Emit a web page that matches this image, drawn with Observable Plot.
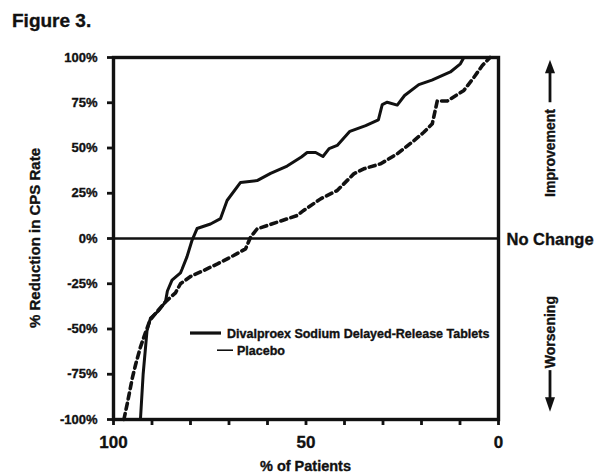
<!DOCTYPE html>
<html>
<head>
<meta charset="utf-8">
<script src="https://cdn.jsdelivr.net/npm/d3@7"></script>
<script src="https://cdn.jsdelivr.net/npm/@observablehq/plot@0.6"></script>
<style>
  html, body { margin: 0; padding: 0; background: #fff; }
  svg text { font-family: "Liberation Sans", Arial, sans-serif; font-weight: bold; fill: #111; stroke: #111; stroke-width: 0.35px; }
</style>
</head>
<body>
<div id="chart"></div>
<script>
// ---- data ----
const divalproexX = [93, 92.3, 91.3, 90.4, 88.3, 86.5, 86, 84.8, 82.6, 82.2, 80.9, 79.6, 78.3, 74.8, 72.2, 70.5, 67, 62.7, 59.2, 54.9, 51.2, 49.7, 47.5, 45.6, 44, 41.9, 38.6, 34.5, 31.2, 30.2, 28.9, 26.3, 24.4, 20.7, 17.3, 12.5, 9.9, 9];
const divalproexY = [-100, -75, -51, -44, -40, -35, -29, -23, -19, -17, -10, -1, 5.5, 8, 11, 21, 31, 32, 36, 40, 45, 47.5, 47.5, 45.3, 49.7, 51.4, 59.2, 62.4, 65.6, 74, 75.3, 73.7, 79, 85, 87.5, 92, 96.5, 100];
const placeboX = [97.3, 96.4, 95.1, 94.3, 93, 91.7, 90.5, 88.5, 86.5, 83.9, 82.6, 80, 76.6, 73, 68.8, 65.7, 64.4, 62.7, 57.5, 52.3, 50.6, 46.2, 41.9, 37.6, 35, 30.6, 26.3, 22, 19.4, 17.2, 15.9, 13.3, 9, 6.4, 4.2, 2.2];
const placeboY = [-100, -91, -77, -70, -60, -52, -45, -40, -35, -30, -25, -21, -17.7, -14, -9.4, -5.7, 0.7, 5.3, 9, 12.7, 15.5, 21.9, 26.5, 35.7, 38.5, 41.3, 46.8, 54, 58.7, 63.4, 76, 76, 81.8, 89, 95.6, 100];
const yTicks = [-100, -75, -50, -25, 0, 25, 50, 75, 100];
const xTicks = [100, 90, 80, 70, 60, 50, 40, 30, 20, 10, 0];
const xLabelTicks = [100, 50, 0];
const seriesNames = ["Divalproex Sodium Delayed-Release Tablets", "Placebo"];
const figureTitle = "Figure 3.";
const yTitle = "% Reduction in CPS Rate";
const xTitle = "% of Patients";

const divalproex = divalproexX.map((x, i) => ({x, y: divalproexY[i]}));
const placebo = placeboX.map((x, i) => ({x, y: placeboY[i]}));

const chart = Plot.plot({
  width: 597,
  height: 475,
  marginLeft: 113,
  marginRight: 99,
  marginTop: 57,
  marginBottom: 56,
  style: {fontFamily: "Liberation Sans, Arial, sans-serif", fontWeight: "bold", background: "#fff"},
  x: {domain: [100, 0], label: null},
  y: {domain: [-100, 100], label: null},
  marks: [
    Plot.ruleY([0], {stroke: "#111", strokeWidth: 2.6}),
    Plot.line(placebo, {x: "x", y: "y", stroke: "#111", strokeWidth: 3.6, strokeDasharray: "6,4.5"}),
    Plot.line(divalproex, {x: "x", y: "y", stroke: "#111", strokeWidth: 3}),
    Plot.frame({stroke: "#111", strokeWidth: 3.4}),
    Plot.axisY({ticks: yTicks, tickFormat: d => d + "%", tickSize: 6, tickPadding: 10, strokeWidth: 2.8, stroke: "#111", fontSize: 13, fontWeight: "bold", label: null}),
    Plot.axisX({ticks: xTicks, tickFormat: d => xLabelTicks.includes(d) ? String(d) : "", tickSize: 6, tickPadding: 10, strokeWidth: 2.8, stroke: "#111", fontSize: 17, fontWeight: "bold", label: null}),
    Plot.text([0], {x: 0, y: 0, text: () => "No Change", textAnchor: "start", dx: 8, dy: 1, fontSize: 16.5, fontWeight: "bold", fill: "#111"})
  ]
});
document.getElementById("chart").appendChild(chart);

// ---- annotations ----
const svg = d3.select(chart);
const xs = chart.scale("x"), ys = chart.scale("y");
const L = xs.apply(100), R = xs.apply(0), T = ys.apply(100), B = ys.apply(-100);

svg.append("text").attr("x", 12).attr("y", 27).attr("text-anchor", "start").attr("font-size", 19).text(figureTitle);
svg.append("text").attr("transform", `translate(40,${(T + B) / 2}) rotate(-90)`)
  .attr("text-anchor", "middle").attr("font-size", 15).text(yTitle);
svg.append("text").attr("x", (L + R) / 2).attr("y", 471).attr("text-anchor", "middle")
  .attr("font-size", 14.5).text(xTitle);

// right side: Improvement / Worsening arrows
const ax = R + 52;
svg.append("text").attr("transform", `translate(${ax + 5},${ys.apply(47)}) rotate(-90)`)
  .attr("text-anchor", "middle").attr("font-size", 14).text("Improvement");
svg.append("line").attr("x1", ax).attr("x2", ax).attr("y1", ys.apply(75)).attr("y2", ys.apply(93))
  .attr("stroke", "#111").attr("stroke-width", 2.8);
svg.append("path").attr("d", `M${ax - 5},${ys.apply(91)} L${ax},${ys.apply(98.5)} L${ax + 5},${ys.apply(91)} Z`).attr("fill", "#111");

svg.append("text").attr("transform", `translate(${ax + 5},${ys.apply(-52)}) rotate(-90)`)
  .attr("text-anchor", "middle").attr("font-size", 14).text("Worsening");
svg.append("line").attr("x1", ax).attr("x2", ax).attr("y1", ys.apply(-73)).attr("y2", ys.apply(-90))
  .attr("stroke", "#111").attr("stroke-width", 2.8);
svg.append("path").attr("d", `M${ax - 5},${ys.apply(-88)} L${ax},${ys.apply(-96)} L${ax + 5},${ys.apply(-88)} Z`).attr("fill", "#111");

// legend inside the frame
const lg = svg.append("g").attr("text-anchor", "start");
const lx = xs.apply(80), ly1 = ys.apply(-52.5), ly2 = ys.apply(-62);
lg.append("line").attr("x1", lx).attr("x2", lx + 31).attr("y1", ly1).attr("y2", ly1).attr("stroke", "#111").attr("stroke-width", 3.2);
lg.append("text").attr("x", lx + 37).attr("y", ly1 + 4.5).attr("font-size", 12.5).text(seriesNames[0]);
lg.append("line").attr("x1", lx + 27).attr("x2", lx + 43).attr("y1", ly2).attr("y2", ly2).attr("stroke", "#111").attr("stroke-width", 1.6);
lg.append("text").attr("x", lx + 47).attr("y", ly2 + 4.5).attr("font-size", 12.5).text(seriesNames[1]);
</script>
</body>
</html>
